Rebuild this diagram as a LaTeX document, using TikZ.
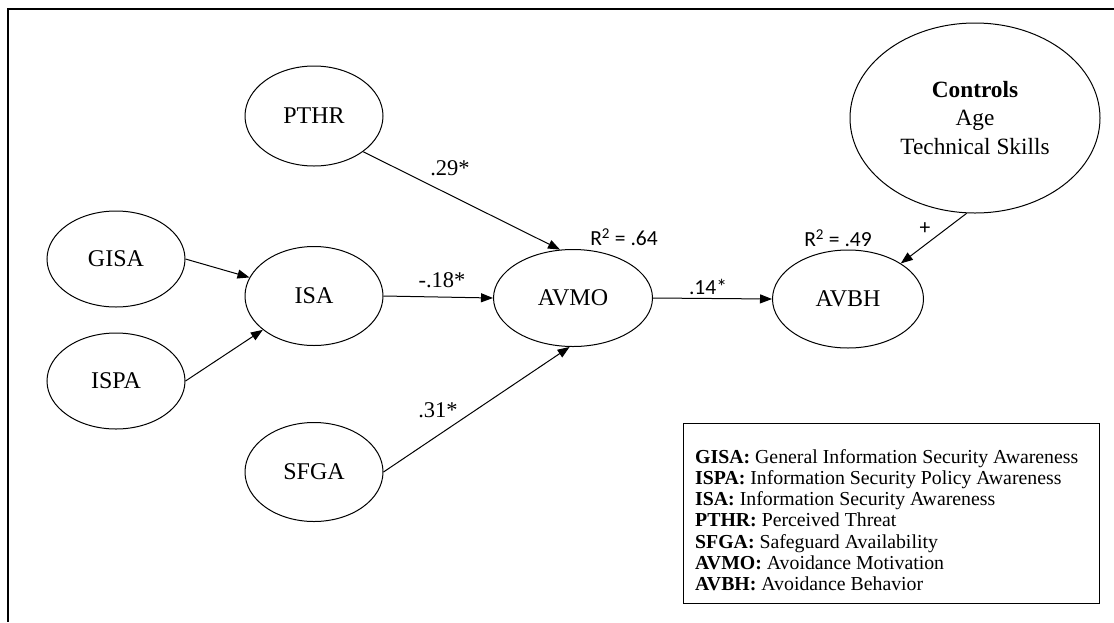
\documentclass[tikz,border=0pt]{standalone}
\usepackage{fontspec}
\setmainfont{Liberation Serif}
\newfontfamily\calibri{Carlito}
\usetikzlibrary{shapes.geometric,arrows.meta}
\begin{document}
\begin{tikzpicture}[x=1pt,y=-1pt,
  var/.style={ellipse,draw,line width=1pt,inner sep=0pt,font=\fontsize{24}{28}\selectfont},
  conn/.style={draw,line width=1pt,-{Triangle[length=12pt,width=9pt]}},
  coef/.style={inner sep=0pt,font=\fontsize{22.5}{26}\selectfont},
  rsq/.style={inner sep=0pt,font=\calibri\fontsize{21.5}{25}\selectfont}]
\useasboundingbox (0,0) rectangle (1114,622);
\draw[line width=1.5pt] (1114,9) -- (8,9) -- (8,622);

\node[var,minimum width=138pt,minimum height=100pt] (PTHR) at (314,116) {PTHR};
\node[var,minimum width=138pt,minimum height=96pt] (GISA) at (116,259) {GISA};
\node[var,minimum width=138pt,minimum height=96pt] (ISPA) at (116,381) {ISPA};
\node[var,minimum width=138pt,minimum height=99pt] (ISA) at (314,296) {ISA};
\node[var,minimum width=138pt,minimum height=99pt] (SFGA) at (314,472) {SFGA};
\node[var,minimum width=159pt,minimum height=97pt] (AVMO) at (573,298) {AVMO};
\node[var,minimum width=151pt,minimum height=98pt] (AVBH) at (848,299) {AVBH};
\node[var,minimum width=250pt,minimum height=190pt,align=center,font=\fontsize{23.3}{28.5}\selectfont] (Controls) at (975,118)
  {\textbf{Controls}\\Age\\Technical Skills};

\draw[conn] (GISA.east) -- (ISA);
\draw[conn] (ISPA.east) -- (ISA);
\draw[conn] (PTHR.-36) -- (AVMO.105);
\draw[conn] (ISA.east) -- (AVMO.west);
\draw[conn] (SFGA.east) -- (AVMO.-94);
\draw[conn] (AVMO.east) -- (AVBH.west);
\draw[conn] (Controls.-95) -- (AVBH.34);

\node[coef] (c29) at (450,168) {.29*};
\node[coef] (c18) at (442,280) {-.18*};
\node[coef] (c31) at (438,410) {.31*};
\node[rsq] (c14) at (708,287) {.14*};
\node[rsq] (r64) at (624,237) {R\textsuperscript{2} = .64};
\node[rsq] (r49) at (838,238) {R\textsuperscript{2} = .49};
\node[rsq] (plus) at (925,229) {+};

\node[draw,line width=1pt,minimum width=416pt,minimum height=180pt,anchor=north west,inner sep=0pt] (legendbox) at (683,423) {};
\node[anchor=west,align=left,inner sep=0pt,font=\fontsize{19.8}{21.2}\selectfont] (legend) at (695,520)
  {\textbf{GISA:} General Information Security Awareness\\
   \textbf{ISPA:} Information Security Policy Awareness\\
   \textbf{ISA:} Information Security Awareness\\
   \textbf{PTHR:} Perceived Threat\\
   \textbf{SFGA:} Safeguard Availability\\
   \textbf{AVMO:} Avoidance Motivation\\
   \textbf{AVBH:} Avoidance Behavior};
\end{tikzpicture}
\end{document}
